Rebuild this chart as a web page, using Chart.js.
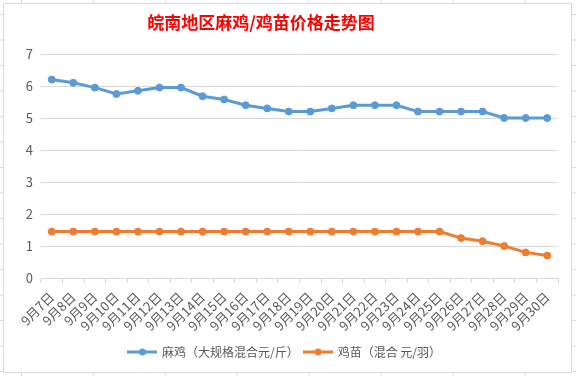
<!DOCTYPE html>
<html>
<head>
<meta charset="utf-8">
<script src="https://cdn.jsdelivr.net/npm/chart.js@4/dist/chart.umd.min.js"></script>
<style>
  html, body { margin: 0; padding: 0; width: 576px; height: 376px; overflow: hidden; background: #fff; }
  #sheet { position: absolute; left: 0; top: 0; width: 576px; height: 376px;
    background-image: linear-gradient(to right, #dadada 1px, transparent 1px), linear-gradient(to bottom, #dadada 1px, transparent 1px);
    background-size: 71.9px 100%, 100% 25.5px;
    background-position: 21px 0, 0 14px; }
  #frame { position: absolute; left: 3px; top: 3px; width: 569px; height: 370px; box-sizing: border-box;
    border: 1px solid #d9d9d9; background: #fff; }
  #c { position: absolute; left: 0; top: 0; }
</style>
</head>
<body>
<div id="sheet"></div>
<div id="frame"></div>
<canvas id="c" width="576" height="376"></canvas>
<script>
const chartTitle = '皖南地区麻鸡/鸡苗价格走势图';
const categories = ['9月7日','9月8日','9月9日','9月10日','9月11日','9月12日','9月13日','9月14日',
  '9月15日','9月16日','9月17日','9月18日','9月19日','9月20日','9月21日','9月22日','9月23日',
  '9月24日','9月25日','9月26日','9月27日','9月28日','9月29日','9月30日'];
const seriesNames = ['麻鸡（大规格混合元/斤）', '鸡苗（混合 元/羽）'];
const maJi = [6.2, 6.1, 5.95, 5.75, 5.85, 5.95, 5.95, 5.68, 5.58, 5.4, 5.3, 5.2,
  5.2, 5.3, 5.4, 5.4, 5.4, 5.2, 5.2, 5.2, 5.2, 5.0, 5.0, 5.0];
const jiMiao = [1.45, 1.45, 1.45, 1.45, 1.45, 1.45, 1.45, 1.45, 1.45, 1.45, 1.45, 1.45,
  1.45, 1.45, 1.45, 1.45, 1.45, 1.45, 1.45, 1.25, 1.15, 1.0, 0.8, 0.7];
const yMin = 0, yMax = 7, yStep = 1;

const BLUE = '#5B9BD5', ORANGE = '#ED7D31', TXT = '#595959', GRID = '#d9d9d9';
const FONT = '"Noto Sans CJK SC", "Microsoft YaHei", sans-serif';

function legendIcon(color) {
  const c = document.createElement('canvas');
  c.width = 30; c.height = 10;
  const g = c.getContext('2d');
  g.strokeStyle = color; g.lineWidth = 3;
  g.beginPath(); g.moveTo(0, 5); g.lineTo(30, 5); g.stroke();
  g.fillStyle = color;
  g.beginPath(); g.arc(15, 5, 3.5, 0, Math.PI * 2); g.fill();
  return c;
}
const icons = [legendIcon(BLUE), legendIcon(ORANGE)];

const titlePlugin = {
  id: 'excelTitle',
  afterDraw(chart) {
    const ctx = chart.ctx;
    ctx.save();
    ctx.font = 'bold 17px ' + FONT;
    ctx.fillStyle = '#ff0000';
    ctx.textAlign = 'center';
    ctx.textBaseline = 'middle';
    ctx.fillText(chartTitle, 261, 23);
    ctx.restore();
  }
};

new Chart(document.getElementById('c'), {
  type: 'line',
  data: {
    labels: categories,
    datasets: [
      { label: seriesNames[0], data: maJi, borderColor: BLUE, backgroundColor: BLUE,
        borderWidth: 3, pointRadius: 3.5, pointBorderWidth: 1, pointBackgroundColor: BLUE, pointBorderColor: BLUE,
        tension: 0, fill: false },
      { label: seriesNames[1], data: jiMiao, borderColor: ORANGE, backgroundColor: ORANGE,
        borderWidth: 3, pointRadius: 3.5, pointBorderWidth: 1, pointBackgroundColor: ORANGE, pointBorderColor: ORANGE,
        tension: 0, fill: false }
    ]
  },
  options: {
    responsive: false,
    animation: false,
    devicePixelRatio: 1,
    layout: { padding: { left: 12, right: 18, top: 54, bottom: 8 } },
    scales: {
      x: {
        offset: true,
        grid: { display: true, offset: true, drawOnChartArea: false, drawTicks: true, tickLength: 5, color: GRID },
        border: { display: true, color: GRID, width: 1 },
        ticks: { color: TXT, font: { family: FONT, size: 13 }, maxRotation: 45, minRotation: 45, autoSkip: false, padding: 6 },
        afterFit(s) { s.height = 62; }
      },
      y: {
        min: yMin, max: yMax,
        grid: { color: GRID, drawTicks: false },
        border: { display: false },
        ticks: { stepSize: yStep, color: TXT, font: { family: FONT, size: 13 }, padding: 8 },
        afterFit(s) { s.width = 29; }
      }
    },
    plugins: {
      title: { display: false },
      tooltip: { enabled: false },
      legend: {
        position: 'bottom',
        labels: {
          color: TXT, font: { family: FONT, size: 12 }, usePointStyle: true, pointStyleWidth: 27, padding: 6,
          generateLabels(chart) {
            const items = Chart.defaults.plugins.legend.labels.generateLabels(chart);
            items.forEach((it, i) => { it.pointStyle = icons[i]; });
            return items;
          }
        }
      }
    }
  },
  plugins: [titlePlugin]
});
</script>
</body>
</html>
